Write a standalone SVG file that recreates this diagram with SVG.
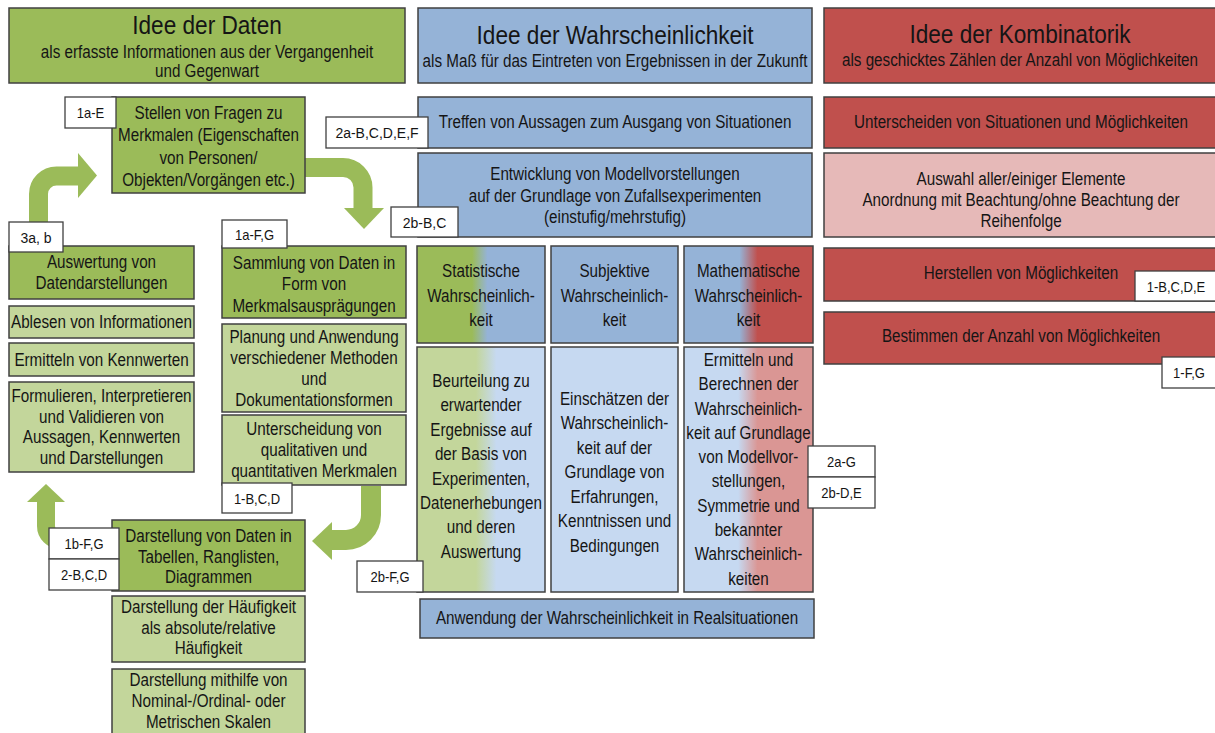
<svg xmlns="http://www.w3.org/2000/svg" width="1215" height="733" viewBox="0 0 1215 733">
<style>
.box{stroke:#404040;stroke-width:1.5}
.dg{fill:#9bbb59}.lg{fill:#c3d69b}.bl{fill:#95b3d7}.lb{fill:#c6d9f1}.rd{fill:#c0504d}.pk{fill:#e6b9b8}
.tag rect{fill:#ffffff;stroke:#404040;stroke-width:1.3}
text{font-family:"Liberation Sans",Arial,sans-serif;fill:#151515;text-anchor:middle}
.t{font-size:17.5px}.h{font-size:26px}.l{font-size:14px}
.shaft{fill:none;stroke:#9bbb59}
.head{fill:#9bbb59}
</style>
<defs>
<linearGradient id="gStatH" x1="0" y1="0" x2="1" y2="0"><stop offset="0" stop-color="#9bbb59"/><stop offset="0.43" stop-color="#9bbb59"/><stop offset="0.55" stop-color="#95b3d7"/><stop offset="1" stop-color="#95b3d7"/></linearGradient>
<linearGradient id="gStatB" x1="0" y1="0" x2="1" y2="0"><stop offset="0" stop-color="#c3d69b"/><stop offset="0.46" stop-color="#c3d69b"/><stop offset="0.62" stop-color="#c6d9f1"/><stop offset="1" stop-color="#c6d9f1"/></linearGradient>
<linearGradient id="gMathH" x1="0" y1="0" x2="1" y2="0"><stop offset="0" stop-color="#95b3d7"/><stop offset="0.43" stop-color="#95b3d7"/><stop offset="0.57" stop-color="#c0504d"/><stop offset="1" stop-color="#c0504d"/></linearGradient>
<linearGradient id="gMathB" x1="0" y1="0" x2="1" y2="0"><stop offset="0" stop-color="#c6d9f1"/><stop offset="0.42" stop-color="#c6d9f1"/><stop offset="0.57" stop-color="#da9694"/><stop offset="1" stop-color="#da9694"/></linearGradient>
</defs>

<g id="connectors">
<path class="shaft" stroke-width="19" d="M38.5 230 V194 A18 18 0 0 1 56.5 176 H80"/>
<polygon class="head" points="78,153 97,175.5 78,198"/>
<path class="shaft" stroke-width="19" d="M304 167.5 H343 A20 20 0 0 1 363 187.5 V209"/>
<polygon class="head" points="344,208 364,229 384,208"/>
<path class="shaft" stroke-width="20" d="M371 486 V515 A25 25 0 0 1 346 540 H330"/>
<polygon class="head" points="332,522 312,541 332,560"/>
<path class="shaft" stroke-width="18" d="M75 540 H60 A14 14 0 0 1 46 526 V500"/>
<polygon class="head" points="27,502 46,484 65,502"/>
</g>

<g id="head-daten"><rect class="box dg" x="9" y="8" width="396" height="75"/>
<g transform="matrix(.87 0 0 1 207 0)">
<text class="h" y="34">Idee der Daten</text>
<text class="t" y="58">als erfasste Informationen aus der Vergangenheit</text>
<text class="t" y="77">und Gegenwart</text></g></g>

<g id="head-wahrscheinlichkeit"><rect class="box bl" x="418" y="8" width="394" height="75"/>
<g transform="matrix(.87 0 0 1 615 0)">
<text class="h" y="44">Idee der Wahrscheinlichkeit</text>
<text class="t" y="67">als Maß für das Eintreten von Ergebnissen in der Zukunft</text></g></g>

<g id="head-kombinatorik"><rect class="box rd" x="824" y="8" width="396" height="75"/>
<g transform="matrix(.87 0 0 1 1020 0)">
<text class="h" y="43">Idee der Kombinatorik</text>
<text class="t" y="66">als geschicktes Zählen der Anzahl von Möglichkeiten</text></g></g>

<g id="treffen"><rect class="box bl" x="418" y="97" width="394" height="51"/>
<g transform="matrix(.87 0 0 1 615 0)"><text class="t" y="128">Treffen von Aussagen zum Ausgang von Situationen</text></g></g>

<g id="entwicklung"><rect class="box bl" x="418" y="153" width="394" height="84"/>
<g transform="matrix(.87 0 0 1 615 0)">
<text class="t" y="180">Entwicklung von Modellvorstellungen</text>
<text class="t" y="202">auf der Grundlage von Zufallsexperimenten</text>
<text class="t" y="223">(einstufig/mehrstufig)</text></g></g>

<g id="unterscheiden"><rect class="box rd" x="824" y="97" width="396" height="51"/>
<g transform="matrix(.87 0 0 1 1021 0)"><text class="t" y="128">Unterscheiden von Situationen und Möglichkeiten</text></g></g>

<g id="auswahl"><rect class="box pk" x="824" y="153" width="396" height="84"/>
<g transform="matrix(.87 0 0 1 1021 0)">
<text class="t" y="185">Auswahl aller/einiger Elemente</text>
<text class="t" y="206">Anordnung mit Beachtung/ohne Beachtung der</text>
<text class="t" y="227">Reihenfolge</text></g></g>

<g id="herstellen"><rect class="box rd" x="824" y="248" width="396" height="53"/>
<g transform="matrix(.87 0 0 1 1021 0)"><text class="t" y="279">Herstellen von Möglichkeiten</text></g></g>

<g id="bestimmen"><rect class="box rd" x="824" y="312" width="396" height="52"/>
<g transform="matrix(.87 0 0 1 1021 0)"><text class="t" y="342">Bestimmen der Anzahl von Möglichkeiten</text></g></g>

<g id="stellen"><rect class="box dg" x="112" y="97" width="193" height="96"/>
<g transform="matrix(.87 0 0 1 208.5 0)">
<text class="t" y="119">Stellen von Fragen zu</text>
<text class="t" y="141.5">Merkmalen (Eigenschaften</text>
<text class="t" y="164">von Personen/</text>
<text class="t" y="186">Objekten/Vorgängen etc.)</text></g></g>

<g id="auswertung"><rect class="box dg" x="9" y="246" width="185" height="53"/>
<g transform="matrix(.87 0 0 1 101.5 0)">
<text class="t" y="268">Auswertung von</text>
<text class="t" y="289">Datendarstellungen</text></g></g>

<g id="ablesen"><rect class="box lg" x="9" y="306" width="185" height="32"/>
<g transform="matrix(.87 0 0 1 101.5 0)"><text class="t" y="328">Ablesen von Informationen</text></g></g>

<g id="ermitteln-kennwerte"><rect class="box lg" x="9" y="343" width="185" height="33"/>
<g transform="matrix(.87 0 0 1 101.5 0)"><text class="t" y="366">Ermitteln von Kennwerten</text></g></g>

<g id="formulieren"><rect class="box lg" x="9" y="382" width="185" height="90"/>
<g transform="matrix(.87 0 0 1 101.5 0)">
<text class="t" y="402">Formulieren, Interpretieren</text>
<text class="t" y="423">und Validieren von</text>
<text class="t" y="443">Aussagen, Kennwerten</text>
<text class="t" y="464">und Darstellungen</text></g></g>

<g id="sammlung"><rect class="box dg" x="222" y="246" width="184" height="72"/>
<g transform="matrix(.87 0 0 1 314 0)">
<text class="t" y="269">Sammlung von Daten in</text>
<text class="t" y="290">Form von</text>
<text class="t" y="312">Merkmalsausprägungen</text></g></g>

<g id="planung"><rect class="box lg" x="222" y="324" width="184" height="88"/>
<g transform="matrix(.87 0 0 1 314 0)">
<text class="t" y="343">Planung und Anwendung</text>
<text class="t" y="364">verschiedener Methoden</text>
<text class="t" y="385">und</text>
<text class="t" y="406">Dokumentationsformen</text></g></g>

<g id="unterscheidung"><rect class="box lg" x="222" y="415" width="184" height="70"/>
<g transform="matrix(.87 0 0 1 314 0)">
<text class="t" y="435">Unterscheidung von</text>
<text class="t" y="456">qualitativen und</text>
<text class="t" y="477">quantitativen Merkmalen</text></g></g>

<g id="darstellung-daten"><rect class="box dg" x="112" y="520" width="193" height="71"/>
<g transform="matrix(.87 0 0 1 208.5 0)">
<text class="t" y="542">Darstellung von Daten in</text>
<text class="t" y="563">Tabellen, Ranglisten,</text>
<text class="t" y="583">Diagrammen</text></g></g>

<g id="darstellung-haeufigkeit"><rect class="box lg" x="112" y="596" width="193" height="66"/>
<g transform="matrix(.87 0 0 1 208.5 0)">
<text class="t" y="613">Darstellung der Häufigkeit</text>
<text class="t" y="634">als absolute/relative</text>
<text class="t" y="654">Häufigkeit</text></g></g>

<g id="darstellung-skalen"><rect class="box lg" x="112" y="669" width="193" height="75"/>
<g transform="matrix(.87 0 0 1 208.5 0)">
<text class="t" y="686">Darstellung mithilfe von</text>
<text class="t" y="707">Nominal-/Ordinal- oder</text>
<text class="t" y="728">Metrischen Skalen</text></g></g>

<g id="statistische"><rect class="box" fill="url(#gStatH)" x="417" y="246" width="128" height="97"/>
<g transform="matrix(.87 0 0 1 481 0)">
<text class="t" y="277">Statistische</text>
<text class="t" y="302">Wahrscheinlich-</text>
<text class="t" y="326">keit</text></g></g>

<g id="subjektive"><rect class="box bl" x="551" y="246" width="127" height="97"/>
<g transform="matrix(.87 0 0 1 614.5 0)">
<text class="t" y="277">Subjektive</text>
<text class="t" y="302">Wahrscheinlich-</text>
<text class="t" y="326">keit</text></g></g>

<g id="mathematische"><rect class="box" fill="url(#gMathH)" x="684" y="246" width="129" height="97"/>
<g transform="matrix(.87 0 0 1 748.5 0)">
<text class="t" y="277">Mathematische</text>
<text class="t" y="302">Wahrscheinlich-</text>
<text class="t" y="326">keit</text></g></g>

<g id="beurteilung"><rect class="box" fill="url(#gStatB)" x="417" y="347" width="128" height="245"/>
<g transform="matrix(.87 0 0 1 481 0)">
<text class="t" y="387">Beurteilung zu</text>
<text class="t" y="411.4">erwartender</text>
<text class="t" y="435.8">Ergebnisse auf</text>
<text class="t" y="460.2">der Basis von</text>
<text class="t" y="484.6">Experimenten,</text>
<text class="t" y="509">Datenerhebungen</text>
<text class="t" y="533.4">und deren</text>
<text class="t" y="557.8">Auswertung</text></g></g>

<g id="einschaetzen"><rect class="box lb" x="551" y="347" width="127" height="245"/>
<g transform="matrix(.87 0 0 1 614.5 0)">
<text class="t" y="405">Einschätzen der</text>
<text class="t" y="429.5">Wahrscheinlich-</text>
<text class="t" y="454">keit auf der</text>
<text class="t" y="478.5">Grundlage von</text>
<text class="t" y="503">Erfahrungen,</text>
<text class="t" y="527.5">Kenntnissen und</text>
<text class="t" y="552">Bedingungen</text></g></g>

<g id="berechnen"><rect class="box" fill="url(#gMathB)" x="684" y="347" width="129" height="245"/>
<g transform="matrix(.87 0 0 1 748.5 0)">
<text class="t" y="366">Ermitteln und</text>
<text class="t" y="390.3">Berechnen der</text>
<text class="t" y="414.6">Wahrscheinlich-</text>
<text class="t" y="438.9">keit auf Grundlage</text>
<text class="t" y="463.2">von Modellvor-</text>
<text class="t" y="487.5">stellungen,</text>
<text class="t" y="511.8">Symmetrie und</text>
<text class="t" y="536.1">bekannter</text>
<text class="t" y="560.4">Wahrscheinlich-</text>
<text class="t" y="584.7">keiten</text></g></g>

<g id="anwendung"><rect class="box bl" x="420" y="599" width="394" height="39"/>
<g transform="matrix(.87 0 0 1 617 0)"><text class="t" y="624">Anwendung der Wahrscheinlichkeit in Realsituationen</text></g></g>

<g id="tag-1a-E" class="tag"><rect x="65" y="97" width="51" height="31"/><text class="l" transform="matrix(.93 0 0 1 90.5 0)" y="118">1a-E</text></g>
<g id="tag-2a-BCDEF" class="tag"><rect x="326" y="117" width="102" height="31"/><text class="l" x="377" y="138">2a-B,C,D,E,F</text></g>
<g id="tag-2b-BC" class="tag"><rect x="391" y="207" width="67" height="30"/><text class="l" x="424.5" y="228">2b-B,C</text></g>
<g id="tag-3ab" class="tag"><rect x="9" y="222" width="54" height="30"/><text class="l" x="36" y="243">3a, b</text></g>
<g id="tag-1a-FG" class="tag"><rect x="222" y="220" width="65" height="28"/><text class="l" transform="matrix(.93 0 0 1 254.5 0)" y="240">1a-F,G</text></g>
<g id="tag-1-BCD" class="tag"><rect x="222" y="483" width="70" height="30"/><text class="l" transform="matrix(.93 0 0 1 257 0)" y="504">1-B,C,D</text></g>
<g id="tag-1b-FG" class="tag"><rect x="49" y="528" width="70" height="31"/><text class="l" transform="matrix(.93 0 0 1 84 0)" y="549">1b-F,G</text></g>
<g id="tag-2-BCD" class="tag"><rect x="49" y="559" width="70" height="31"/><text class="l" transform="matrix(.93 0 0 1 84 0)" y="580">2-B,C,D</text></g>
<g id="tag-2b-FG" class="tag"><rect x="357" y="561" width="66" height="31"/><text class="l" transform="matrix(.93 0 0 1 390 0)" y="582">2b-F,G</text></g>
<g id="tag-2a-G" class="tag"><rect x="808" y="446" width="67" height="31"/><text class="l" transform="matrix(.93 0 0 1 841.5 0)" y="467">2a-G</text></g>
<g id="tag-2b-DE" class="tag"><rect x="808" y="477" width="67" height="31"/><text class="l" transform="matrix(.93 0 0 1 841.5 0)" y="498">2b-D,E</text></g>
<g id="tag-1-BCDE" class="tag"><rect x="1135" y="271" width="85" height="30"/><text class="l" transform="matrix(.93 0 0 1 1176 0)" y="292">1-B,C,D,E</text></g>
<g id="tag-1-FG" class="tag"><rect x="1162" y="357" width="58" height="31"/><text class="l" transform="matrix(.93 0 0 1 1189 0)" y="378">1-F,G</text></g>
</svg>
